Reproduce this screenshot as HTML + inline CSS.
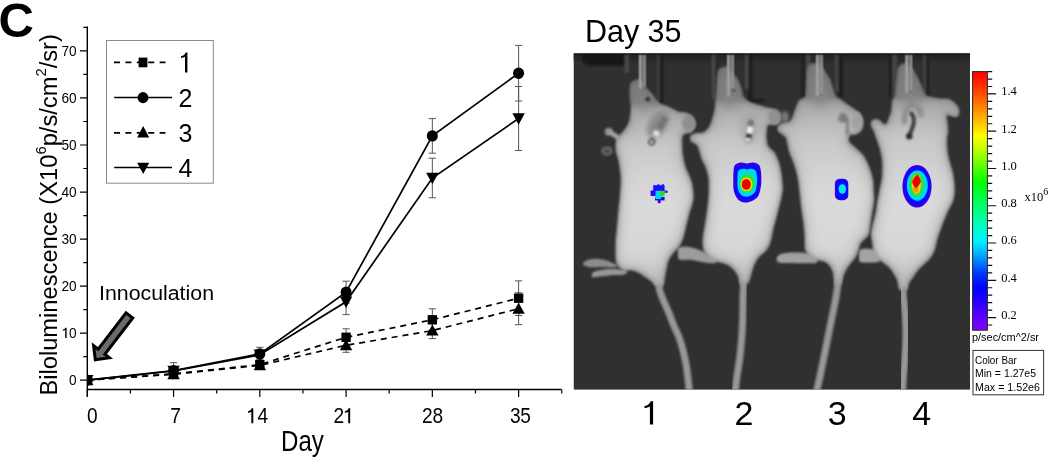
<!DOCTYPE html>
<html><head><meta charset="utf-8"><style>
html,body{margin:0;padding:0;background:#fff;}
body{width:1050px;height:458px;overflow:hidden;position:relative;}
svg{position:absolute;left:0;top:0;will-change:transform;}
text{font-family:"Liberation Sans",sans-serif;fill:#000;}
.serif{font-family:"Liberation Serif",serif;}
</style></head><body>
<svg width="1050" height="458" viewBox="0 0 1050 458">
<path d="M87.3 26.6 V396.8 M87.3 389.5 H561.5" stroke="#000" stroke-width="1.4" fill="none"/>
<path d="M80 380.2 H87.3 M80 333.16 H87.3 M80 286.12 H87.3 M80 239.08 H87.3 M80 192.04 H87.3 M80 145 H87.3 M80 97.96 H87.3 M80 50.92 H87.3 M83.3 356.68 H87.3 M83.3 309.64 H87.3 M83.3 262.6 H87.3 M83.3 215.56 H87.3 M83.3 168.52 H87.3 M83.3 121.48 H87.3 M83.3 74.44 H87.3 M83.3 27.4 H87.3 M87.3 389.5 V397 M173.56 389.5 V397 M259.82 389.5 V397 M346.08 389.5 V397 M432.34 389.5 V397 M518.61 389.5 V397 M130.43 389.5 V393.6 M216.69 389.5 V393.6 M302.95 389.5 V393.6 M389.21 389.5 V393.6 M475.47 389.5 V393.6 M561.74 389.5 V393.6" stroke="#000" stroke-width="1.2" fill="none"/>
<text x="0" y="0" text-anchor="middle" font-size="15.2" transform="translate(72.7 385.1) scale(0.9 1)">0</text>
<path d="M65.18 338.06 H66.63 V327.66 H65.49 Q65.03 329.32 62.71 329.79 V330.78 Q64.45 330.57 65.18 330.05Z" fill="#000"/><text x="0" y="0" text-anchor="middle" font-size="15.2" transform="translate(72.7 338.06) scale(0.9 1)">0</text>
<text x="0" y="0" text-anchor="middle" font-size="15.2" transform="translate(65.3 291.02) scale(0.9 1)">2</text><text x="0" y="0" text-anchor="middle" font-size="15.2" transform="translate(72.7 291.02) scale(0.9 1)">0</text>
<text x="0" y="0" text-anchor="middle" font-size="15.2" transform="translate(65.3 243.98) scale(0.9 1)">3</text><text x="0" y="0" text-anchor="middle" font-size="15.2" transform="translate(72.7 243.98) scale(0.9 1)">0</text>
<text x="0" y="0" text-anchor="middle" font-size="15.2" transform="translate(65.3 196.94) scale(0.9 1)">4</text><text x="0" y="0" text-anchor="middle" font-size="15.2" transform="translate(72.7 196.94) scale(0.9 1)">0</text>
<text x="0" y="0" text-anchor="middle" font-size="15.2" transform="translate(65.3 149.9) scale(0.9 1)">5</text><text x="0" y="0" text-anchor="middle" font-size="15.2" transform="translate(72.7 149.9) scale(0.9 1)">0</text>
<text x="0" y="0" text-anchor="middle" font-size="15.2" transform="translate(65.3 102.86) scale(0.9 1)">6</text><text x="0" y="0" text-anchor="middle" font-size="15.2" transform="translate(72.7 102.86) scale(0.9 1)">0</text>
<text x="0" y="0" text-anchor="middle" font-size="15.2" transform="translate(65.3 55.82) scale(0.9 1)">7</text><text x="0" y="0" text-anchor="middle" font-size="15.2" transform="translate(72.7 55.82) scale(0.9 1)">0</text>
<text x="0" y="0" text-anchor="middle" font-size="22" transform="translate(92.4 423.3) scale(0.87 1)">0</text>
<text x="0" y="0" text-anchor="middle" font-size="22" transform="translate(175.5 423.3) scale(0.87 1)">7</text>
<path d="M251.33 423.3 H253.28 V408.2 H251.75 Q251.13 410.62 248.01 411.3 V412.73 Q250.35 412.43 251.33 411.67Z" fill="#000"/><text x="0" y="0" text-anchor="middle" font-size="22" transform="translate(262.7 423.3) scale(0.87 1)">4</text>
<text x="0" y="0" text-anchor="middle" font-size="22" transform="translate(338.8 423.3) scale(0.87 1)">2</text><path d="M348.22 423.3 H350.17 V408.2 H348.65 Q348.03 410.62 344.91 411.3 V412.73 Q347.25 412.43 348.22 411.67Z" fill="#000"/>
<text x="0" y="0" text-anchor="middle" font-size="22" transform="translate(427.3 423.3) scale(0.87 1)">2</text><text x="0" y="0" text-anchor="middle" font-size="22" transform="translate(437.7 423.3) scale(0.87 1)">8</text>
<text x="0" y="0" text-anchor="middle" font-size="22" transform="translate(515.2 423.3) scale(0.87 1)">3</text><text x="0" y="0" text-anchor="middle" font-size="22" transform="translate(525.6 423.3) scale(0.87 1)">5</text>
<text x="281" y="450.6" font-size="29.2" textLength="42.8" lengthAdjust="spacingAndGlyphs">Day</text>
<path d="M259.82 362.1 V367.1 M256.22 362.1 H263.42 M256.22 367.1 H263.42 M346.08 328.8 V345.8 M342.48 328.8 H349.68 M342.48 345.8 H349.68 M432.34 308.8 V330.8 M428.74 308.8 H435.94 M428.74 330.8 H435.94 M518.61 280.9 V315.5 M515 280.9 H522.21 M515 315.5 H522.21 M173.56 362.7 V378.7 M169.96 362.7 H177.16 M169.96 378.7 H177.16 M259.82 347.3 V360.7 M256.22 347.3 H263.42 M256.22 360.7 H263.42 M346.08 281.2 V303.2 M342.48 281.2 H349.68 M342.48 303.2 H349.68 M432.34 118.6 V153.2 M428.74 118.6 H435.94 M428.74 153.2 H435.94 M518.61 45.4 V101 M515 45.4 H522.21 M515 101 H522.21 M259.82 362.9 V367.9 M256.22 362.9 H263.42 M256.22 367.9 H263.42 M346.08 338.3 V352.3 M342.48 338.3 H349.68 M342.48 352.3 H349.68 M432.34 322.6 V338.6 M428.74 322.6 H435.94 M428.74 338.6 H435.94 M518.61 292.7 V324.7 M515 292.7 H522.21 M515 324.7 H522.21 M173.56 369 V373 M169.96 369 H177.16 M169.96 373 H177.16 M259.82 349.8 V359.8 M256.22 349.8 H263.42 M256.22 359.8 H263.42 M346.08 289 V314.6 M342.48 289 H349.68 M342.48 314.6 H349.68 M432.34 158.2 V197.8 M428.74 158.2 H435.94 M428.74 197.8 H435.94 M518.61 86.5 V150.5 M515 86.5 H522.21 M515 150.5 H522.21" stroke="#555" stroke-width="1" fill="none"/>
<polyline points="87.3,380.2 173.56,373.9 259.82,364.6 346.08,337.3 432.34,319.8 518.61,298.2" stroke="#000" stroke-width="1.7" fill="none" stroke-dasharray="6 5"/>
<polyline points="87.3,380.2 173.56,374.2 259.82,365.4 346.08,345.3 432.34,330.6 518.61,308.7" stroke="#000" stroke-width="1.7" fill="none" stroke-dasharray="6 5"/>
<polyline points="87.3,380.2 173.56,370.7 259.82,354 346.08,292.2 432.34,135.9 518.61,73.2" stroke="#000" stroke-width="1.7" fill="none"/>
<polyline points="87.3,380.2 173.56,371 259.82,354.8 346.08,301.8 432.34,178 518.61,118.5" stroke="#000" stroke-width="1.7" fill="none"/>
<clipPath id="plotclip"><rect x="87.1" y="0" width="500" height="388.8"/></clipPath>
<g clip-path="url(#plotclip)">
<rect x="82.6" y="375.5" width="9.4" height="9.4" fill="#000"/>
<path d="M87.3 374.15 L93.5 385.15 L81.1 385.15Z" fill="#000"/>
<ellipse cx="87.3" cy="380.2" rx="5.5" ry="5.72" fill="#000"/>
<path d="M87.3 386.52 L93.5 375.02 L81.1 375.02Z" fill="#000"/>
<rect x="168.86" y="369.2" width="9.4" height="9.4" fill="#000"/>
<path d="M173.56 368.15 L179.76 379.15 L167.36 379.15Z" fill="#000"/>
<ellipse cx="173.56" cy="370.7" rx="5.5" ry="5.72" fill="#000"/>
<path d="M173.56 377.32 L179.76 365.82 L167.36 365.82Z" fill="#000"/>
<rect x="255.12" y="359.9" width="9.4" height="9.4" fill="#000"/>
<path d="M259.82 359.35 L266.02 370.35 L253.62 370.35Z" fill="#000"/>
<ellipse cx="259.82" cy="354" rx="5.5" ry="5.72" fill="#000"/>
<path d="M259.82 361.12 L266.02 349.62 L253.62 349.62Z" fill="#000"/>
<rect x="341.38" y="332.6" width="9.4" height="9.4" fill="#000"/>
<path d="M346.08 339.25 L352.28 350.25 L339.88 350.25Z" fill="#000"/>
<ellipse cx="346.08" cy="292.2" rx="5.5" ry="5.72" fill="#000"/>
<path d="M346.08 308.12 L352.28 296.62 L339.88 296.62Z" fill="#000"/>
<rect x="427.64" y="315.1" width="9.4" height="9.4" fill="#000"/>
<path d="M432.34 324.55 L438.54 335.55 L426.14 335.55Z" fill="#000"/>
<ellipse cx="432.34" cy="135.9" rx="5.5" ry="5.72" fill="#000"/>
<path d="M432.34 184.32 L438.54 172.82 L426.14 172.82Z" fill="#000"/>
<rect x="513.9" y="293.5" width="9.4" height="9.4" fill="#000"/>
<path d="M518.61 302.65 L524.81 313.65 L512.4 313.65Z" fill="#000"/>
<ellipse cx="518.61" cy="73.2" rx="5.5" ry="5.72" fill="#000"/>
<path d="M518.61 124.83 L524.81 113.33 L512.4 113.33Z" fill="#000"/>
</g>
<rect x="106.5" y="40.5" width="106.8" height="142.7" fill="none" stroke="#8a8a8a" stroke-width="1"/>
<path d="M114 62.4 H165.5" stroke="#000" stroke-width="1.7" stroke-dasharray="6 5.4" fill="none"/>
<path d="M114.2 97.6 H172" stroke="#000" stroke-width="1.5" fill="none"/>
<path d="M114 132.8 H165.5" stroke="#000" stroke-width="1.7" stroke-dasharray="6 5.4" fill="none"/>
<path d="M114.2 167.6 H172" stroke="#000" stroke-width="1.5" fill="none"/>
<rect x="138.6" y="57.6" width="8.8" height="9.7" fill="#000"/>
<ellipse cx="143" cy="97.6" rx="5.4" ry="5.62" fill="#000"/>
<path d="M143.2 125.98 L149.2 137.48 L137.2 137.48Z" fill="#000"/>
<path d="M143.2 174.01 L149.2 162.71 L137.2 162.71Z" fill="#000"/>
<path d="M185 72.4 H187.4 V52.5 H185.6 Q184.8 55.5 181 56.2 V58 Q183.6 57.7 185 56.7 Z" fill="#000"/>
<text x="178.5" y="106.8" font-size="25">2</text>
<text x="178.5" y="142" font-size="25">3</text>
<text x="178.5" y="176.8" font-size="25">4</text>
<text x="99" y="299.9" font-size="20" textLength="115" lengthAdjust="spacingAndGlyphs">Innoculation</text>
<path transform="translate(95.3 359.8) rotate(127.5)" d="M0 0 L-10.2 -10 L-10.2 -4.2 L-56 -4.2 L-56 4.2 L-10.2 4.2 L-10.2 10 Z" fill="#6b6b6b" stroke="#000" stroke-width="3" stroke-linejoin="miter"/>
<text x="-1.5" y="37.3" font-size="49" font-weight="bold">C</text>
<text transform="translate(57.3 395.6) rotate(-90)" font-size="24.8" textLength="361.5" lengthAdjust="spacingAndGlyphs">Biloluminescence (X10<tspan font-size="15.5" dy="-11">6</tspan><tspan dy="11">p/s/cm</tspan><tspan font-size="15.5" dy="-11">2</tspan><tspan dy="11">/sr)</tspan></text>
<defs><clipPath id="pc"><rect x="573.5" y="53.3" width="396.5" height="336.5"/></clipPath><filter id="b1" x="-30%" y="-30%" width="160%" height="160%"><feGaussianBlur stdDeviation="1.2"/></filter><filter id="b2" x="-30%" y="-30%" width="160%" height="160%"><feGaussianBlur stdDeviation="2.5"/></filter><filter id="b05" x="-30%" y="-30%" width="160%" height="160%"><feGaussianBlur stdDeviation="0.6"/></filter><filter id="b08" x="-30%" y="-30%" width="160%" height="160%"><feGaussianBlur stdDeviation="0.8"/></filter><filter id="b15" x="-30%" y="-30%" width="160%" height="160%"><feGaussianBlur stdDeviation="1.5"/></filter><filter id="b3" x="-30%" y="-30%" width="160%" height="160%"><feGaussianBlur stdDeviation="3.5"/></filter><filter id="er1" x="-20%" y="-20%" width="140%" height="140%"><feMorphology operator="erode" radius="2.2"/><feGaussianBlur stdDeviation="2"/></filter><filter id="er2" x="-20%" y="-20%" width="140%" height="140%"><feMorphology operator="erode" radius="7"/><feGaussianBlur stdDeviation="5"/></filter><filter id="noise" x="0" y="0" width="100%" height="100%"><feTurbulence type="fractalNoise" baseFrequency="0.9" numOctaves="1" seed="3"/><feColorMatrix type="matrix" values="0 0 0 0 0.5  0 0 0 0 0.5  0 0 0 0 0.5  0 0 0 0.05 0"/></filter><linearGradient id="ge0" gradientUnits="userSpaceOnUse" x1="0" y1="50" x2="0" y2="292"><stop offset="0.0000" stop-color="#6c6c6c"/><stop offset="0.2149" stop-color="#747474"/><stop offset="0.2397" stop-color="#8e8e8e"/><stop offset="0.6198" stop-color="#9e9e9e"/><stop offset="1.0000" stop-color="#969696"/></linearGradient><linearGradient id="gm0" gradientUnits="userSpaceOnUse" x1="0" y1="50" x2="0" y2="292"><stop offset="0.0000" stop-color="#787878"/><stop offset="0.2149" stop-color="#7e7e7e"/><stop offset="0.2355" stop-color="#a2a2a2"/><stop offset="0.3636" stop-color="#bcbcbc"/><stop offset="0.5785" stop-color="#cbcbcb"/><stop offset="0.8760" stop-color="#c6c6c6"/><stop offset="1.0000" stop-color="#b4b4b4"/></linearGradient><linearGradient id="gc0" gradientUnits="userSpaceOnUse" x1="0" y1="50" x2="0" y2="292"><stop offset="0.0000" stop-color="#7e7e7e"/><stop offset="0.2149" stop-color="#858585"/><stop offset="0.2355" stop-color="#aeaeae"/><stop offset="0.3636" stop-color="#c8c8c8"/><stop offset="0.5165" stop-color="#d6d6d6"/><stop offset="0.6198" stop-color="#dbdbdb"/><stop offset="0.8471" stop-color="#d8d8d8"/><stop offset="1.0000" stop-color="#c4c4c4"/></linearGradient><linearGradient id="ge1" gradientUnits="userSpaceOnUse" x1="0" y1="50" x2="0" y2="292"><stop offset="0.0000" stop-color="#6c6c6c"/><stop offset="0.2004" stop-color="#747474"/><stop offset="0.2252" stop-color="#8e8e8e"/><stop offset="0.6198" stop-color="#9e9e9e"/><stop offset="1.0000" stop-color="#969696"/></linearGradient><linearGradient id="gm1" gradientUnits="userSpaceOnUse" x1="0" y1="50" x2="0" y2="292"><stop offset="0.0000" stop-color="#787878"/><stop offset="0.2004" stop-color="#7e7e7e"/><stop offset="0.2211" stop-color="#a2a2a2"/><stop offset="0.3492" stop-color="#bcbcbc"/><stop offset="0.5785" stop-color="#cbcbcb"/><stop offset="0.8760" stop-color="#c6c6c6"/><stop offset="1.0000" stop-color="#b4b4b4"/></linearGradient><linearGradient id="gc1" gradientUnits="userSpaceOnUse" x1="0" y1="50" x2="0" y2="292"><stop offset="0.0000" stop-color="#7e7e7e"/><stop offset="0.2004" stop-color="#858585"/><stop offset="0.2211" stop-color="#aeaeae"/><stop offset="0.3492" stop-color="#c8c8c8"/><stop offset="0.5165" stop-color="#d6d6d6"/><stop offset="0.6198" stop-color="#dbdbdb"/><stop offset="0.8471" stop-color="#d8d8d8"/><stop offset="1.0000" stop-color="#c4c4c4"/></linearGradient><linearGradient id="ge2" gradientUnits="userSpaceOnUse" x1="0" y1="50" x2="0" y2="292"><stop offset="0.0000" stop-color="#6c6c6c"/><stop offset="0.1921" stop-color="#747474"/><stop offset="0.2169" stop-color="#8e8e8e"/><stop offset="0.6198" stop-color="#9e9e9e"/><stop offset="1.0000" stop-color="#969696"/></linearGradient><linearGradient id="gm2" gradientUnits="userSpaceOnUse" x1="0" y1="50" x2="0" y2="292"><stop offset="0.0000" stop-color="#787878"/><stop offset="0.1921" stop-color="#7e7e7e"/><stop offset="0.2128" stop-color="#a2a2a2"/><stop offset="0.3409" stop-color="#bcbcbc"/><stop offset="0.5785" stop-color="#cbcbcb"/><stop offset="0.8760" stop-color="#c6c6c6"/><stop offset="1.0000" stop-color="#b4b4b4"/></linearGradient><linearGradient id="gc2" gradientUnits="userSpaceOnUse" x1="0" y1="50" x2="0" y2="292"><stop offset="0.0000" stop-color="#7e7e7e"/><stop offset="0.1921" stop-color="#858585"/><stop offset="0.2128" stop-color="#aeaeae"/><stop offset="0.3409" stop-color="#c8c8c8"/><stop offset="0.5165" stop-color="#d6d6d6"/><stop offset="0.6198" stop-color="#dbdbdb"/><stop offset="0.8471" stop-color="#d8d8d8"/><stop offset="1.0000" stop-color="#c4c4c4"/></linearGradient><linearGradient id="ge3" gradientUnits="userSpaceOnUse" x1="0" y1="50" x2="0" y2="292"><stop offset="0.0000" stop-color="#6c6c6c"/><stop offset="0.1901" stop-color="#747474"/><stop offset="0.2149" stop-color="#8e8e8e"/><stop offset="0.6198" stop-color="#9e9e9e"/><stop offset="1.0000" stop-color="#969696"/></linearGradient><linearGradient id="gm3" gradientUnits="userSpaceOnUse" x1="0" y1="50" x2="0" y2="292"><stop offset="0.0000" stop-color="#787878"/><stop offset="0.1901" stop-color="#7e7e7e"/><stop offset="0.2107" stop-color="#a2a2a2"/><stop offset="0.3388" stop-color="#bcbcbc"/><stop offset="0.5785" stop-color="#cbcbcb"/><stop offset="0.8760" stop-color="#c6c6c6"/><stop offset="1.0000" stop-color="#b4b4b4"/></linearGradient><linearGradient id="gc3" gradientUnits="userSpaceOnUse" x1="0" y1="50" x2="0" y2="292"><stop offset="0.0000" stop-color="#7e7e7e"/><stop offset="0.1901" stop-color="#858585"/><stop offset="0.2107" stop-color="#aeaeae"/><stop offset="0.3388" stop-color="#c8c8c8"/><stop offset="0.5165" stop-color="#d6d6d6"/><stop offset="0.6198" stop-color="#dbdbdb"/><stop offset="0.8471" stop-color="#d8d8d8"/><stop offset="1.0000" stop-color="#c4c4c4"/></linearGradient><linearGradient id="gcb" x1="0" y1="0" x2="0" y2="1"><stop offset="0" stop-color="#ff0000"/><stop offset="0.03" stop-color="#ff1800"/><stop offset="0.09" stop-color="#ff5000"/><stop offset="0.15" stop-color="#ff9000"/><stop offset="0.195" stop-color="#ffc000"/><stop offset="0.25" stop-color="#ffff00"/><stop offset="0.31" stop-color="#b0ff00"/><stop offset="0.43" stop-color="#00ff00"/><stop offset="0.48" stop-color="#00ff40"/><stop offset="0.537" stop-color="#00ff80"/><stop offset="0.597" stop-color="#00ffc0"/><stop offset="0.656" stop-color="#00f0ff"/><stop offset="0.714" stop-color="#00a0ff"/><stop offset="0.774" stop-color="#0040ff"/><stop offset="0.834" stop-color="#0000ff"/><stop offset="0.88" stop-color="#2000ff"/><stop offset="0.95" stop-color="#6000ff"/><stop offset="1" stop-color="#8000ff"/></linearGradient></defs>
<g clip-path="url(#pc)">
<rect x="573.5" y="53.3" width="396.5" height="336.5" fill="#303030"/>
<g filter="url(#b08)">
<rect x="573" y="54.5" width="400" height="6.5" fill="#252525"/>
<path d="M581.8 53 H624.6 V65.5 H586.7 L581.8 60Z" fill="#141414"/>
<rect x="573" y="52" width="400" height="3" fill="#121212"/>
<rect x="624.6" y="55" width="4.2" height="18" fill="#4a4a4a"/>
<rect x="660" y="55" width="3.6" height="48.4" fill="#1c1c1c"/>
<rect x="656.5" y="55" width="3.5" height="45" fill="#3a3a3a"/>
<rect x="712" y="55" width="3" height="44.7" fill="#4a4a4a"/>
<rect x="715" y="55" width="3.6" height="44" fill="#252525"/>
<rect x="745" y="55" width="3.6" height="33.7" fill="#4a4a4a"/>
<rect x="748.6" y="55" width="3.6" height="46" fill="#1a1a1a"/>
<rect x="801" y="55" width="5" height="42" fill="#222222"/>
<rect x="806" y="55" width="4" height="42" fill="#4a4a4a"/>
<rect x="835" y="55" width="3.6" height="37" fill="#454545"/>
<rect x="838.6" y="55" width="4.4" height="42" fill="#1e1e1e"/>
<rect x="889" y="55" width="3.4" height="42" fill="#1e1e1e"/>
<rect x="892.4" y="55" width="4.3" height="42" fill="#464646"/>
<rect x="923.5" y="55" width="2.5" height="37" fill="#454545"/>
<rect x="926" y="55" width="2.4" height="42" fill="#1e1e1e"/>
<rect x="748.6" y="99" width="16" height="3" fill="#1e1e1e"/>
</g>
<g filter="url(#b08)">
<path d="M582.9 264.5 C582.3 263.38 584.3 261.47 586.4 260.5 C588.5 259.53 592.23 258.73 595.5 258.7 C598.77 258.67 603.08 259.53 606 260.3 C608.92 261.07 611 262.43 613 263.3 C615 264.17 618 264.8 618 265.5 C618 266.2 615.6 267.27 613 267.5 C610.4 267.73 606.23 266.95 602.4 266.9 C598.57 266.85 593.25 267.6 590 267.2 C586.75 266.8 583.5 265.62 582.9 264.5Z" fill="#8c8c8c"/>
<path d="M592 277 C591.5 276.22 591.67 273.47 593 272.3 C594.33 271.13 597.17 270.55 600 270 C602.83 269.45 606.67 269.1 610 269 C613.33 268.9 617.17 269.07 620 269.4 C622.83 269.73 626.33 270.13 627 271 C627.67 271.87 626.93 273.87 624 274.6 C621.07 275.33 614.07 275 609.4 275.4 C604.73 275.8 598.9 276.73 596 277 C593.1 277.27 592.5 277.78 592 277Z" fill="#979797"/>
<path d="M678 253.5 C677.85 251.55 676.87 248.88 678.6 247.8 C680.33 246.72 685.13 246.72 688.4 247 C691.67 247.28 695.47 248.58 698.2 249.5 C700.93 250.42 702.62 251.45 704.8 252.5 C706.98 253.55 709.27 254.72 711.3 255.8 C713.33 256.88 716.45 257.8 717 259 C717.55 260.2 716.63 262.43 714.6 263 C712.57 263.57 708.62 262.9 704.8 262.4 C700.98 261.9 695.92 260.48 691.7 260 C687.48 259.52 681.78 260.58 679.5 259.5 C677.22 258.42 678.15 255.45 678 253.5Z" fill="#9c9c9c"/>
<path d="M776.5 259 C776.5 257.75 777.42 256 779 255 C780.58 254 783.33 253.42 786 253 C788.67 252.58 791.83 252.5 795 252.5 C798.17 252.5 802.17 252.58 805 253 C807.83 253.42 810 254 812 255 C814 256 816.33 257.67 817 259 C817.67 260.33 818 262.3 816 263 C814 263.7 809.33 263.2 805 263.2 C800.67 263.2 794.33 263.12 790 263 C785.67 262.88 781.25 263.17 779 262.5 C776.75 261.83 776.5 260.25 776.5 259Z" fill="#a0a0a0"/>
<path d="M859 256 C859 254.03 858.83 251.2 860 250 C861.17 248.8 863.83 248.88 866 248.8 C868.17 248.72 870.83 248.8 873 249.5 C875.17 250.2 877.67 251.58 879 253 C880.33 254.42 881.17 256.5 881 258 C880.83 259.5 880.17 261.23 878 262 C875.83 262.77 871 262.63 868 262.6 C865 262.57 861.5 262.9 860 261.8 C858.5 260.7 859 257.97 859 256Z" fill="#a4a4a4"/>
<ellipse cx="608.8" cy="131.8" rx="4.2" ry="4" fill="#909090"/>
<path d="M618 137.5 L611 133" stroke="#a0a0a0" stroke-width="5" stroke-linecap="round"/>
<ellipse cx="607" cy="151" rx="4.6" ry="3.6" fill="#484848" stroke="#6e6e6e" stroke-width="2"/>
</g>
<path d="M659.5 283 C659.52 284.17 658.98 287.17 659.6 290 C660.22 292.83 661.72 296.33 663.2 300 C664.68 303.67 666.7 307.67 668.5 312 C670.3 316.33 672.08 321.33 674 326 C675.92 330.67 678.05 334 680 340 C681.95 346 684.25 354.5 685.7 362 C687.15 369.5 688.1 379.67 688.7 385 C689.3 390.33 689.2 392.5 689.3 394" stroke="#8c8c8c" stroke-width="7.2" fill="none" stroke-linecap="round" filter="url(#b08)"/>
<path d="M659.5 283 C659.52 284.17 658.98 287.17 659.6 290 C660.22 292.83 661.72 296.33 663.2 300 C664.68 303.67 666.7 307.67 668.5 312 C670.3 316.33 672.08 321.33 674 326 C675.92 330.67 678.05 334 680 340 C681.95 346 684.25 354.5 685.7 362 C687.15 369.5 688.1 379.67 688.7 385 C689.3 390.33 689.2 392.5 689.3 394" stroke="#9c9c9c" stroke-width="3" fill="none" stroke-linecap="round" filter="url(#b08)"/>
<path d="M743.5 281 C743.47 282.5 743.38 286.83 743.3 290 C743.22 293.17 743.1 295 743 300 C742.9 305 742.93 313.5 742.7 320 C742.47 326.5 742.12 332.5 741.6 339 C741.08 345.5 740.43 352.33 739.6 359 C738.77 365.67 737.37 373.17 736.6 379 C735.83 384.83 735.27 391.5 735 394" stroke="#8c8c8c" stroke-width="7.2" fill="none" stroke-linecap="round" filter="url(#b08)"/>
<path d="M743.5 281 C743.47 282.5 743.38 286.83 743.3 290 C743.22 293.17 743.1 295 743 300 C742.9 305 742.93 313.5 742.7 320 C742.47 326.5 742.12 332.5 741.6 339 C741.08 345.5 740.43 352.33 739.6 359 C738.77 365.67 737.37 373.17 736.6 379 C735.83 384.83 735.27 391.5 735 394" stroke="#9c9c9c" stroke-width="3" fill="none" stroke-linecap="round" filter="url(#b08)"/>
<path d="M838 277 C838 278 838.42 279.17 838 283 C837.58 286.83 836.6 293.83 835.5 300 C834.4 306.17 832.98 312.17 831.4 320 C829.82 327.83 827.82 338 826 347 C824.18 356 821.97 367 820.5 374 C819.03 381 817.83 385.67 817.2 389 C816.57 392.33 816.78 393.17 816.7 394" stroke="#8c8c8c" stroke-width="7.2" fill="none" stroke-linecap="round" filter="url(#b08)"/>
<path d="M838 277 C838 278 838.42 279.17 838 283 C837.58 286.83 836.6 293.83 835.5 300 C834.4 306.17 832.98 312.17 831.4 320 C829.82 327.83 827.82 338 826 347 C824.18 356 821.97 367 820.5 374 C819.03 381 817.83 385.67 817.2 389 C816.57 392.33 816.78 393.17 816.7 394" stroke="#9c9c9c" stroke-width="3" fill="none" stroke-linecap="round" filter="url(#b08)"/>
<path d="M903.5 286 C903.47 287.5 902.98 290 903.3 295 C903.62 300 904.95 309 905.4 316 C905.85 323 906.08 330 906 337 C905.92 344 905.35 351.17 904.9 358 C904.45 364.83 903.73 372 903.3 378 C902.87 384 902.47 391.33 902.3 394" stroke="#8c8c8c" stroke-width="7.2" fill="none" stroke-linecap="round" filter="url(#b08)"/>
<path d="M903.5 286 C903.47 287.5 902.98 290 903.3 295 C903.62 300 904.95 309 905.4 316 C905.85 323 906.08 330 906 337 C905.92 344 905.35 351.17 904.9 358 C904.45 364.83 903.73 372 903.3 378 C902.87 384 902.47 391.33 902.3 394" stroke="#9c9c9c" stroke-width="3" fill="none" stroke-linecap="round" filter="url(#b08)"/>
<path d="M630.4 84 C631.13 81.82 632.85 81.48 634.2 80.7 C635.55 79.92 637.12 79.17 638.5 79.3 C639.88 79.43 641.3 80.17 642.5 81.5 C643.7 82.83 644.28 85.43 645.7 87.3 C647.12 89.17 649.28 90.7 651 92.7 C652.72 94.7 654.43 97.47 656 99.3 C657.57 101.13 658.65 102.6 660.4 103.7 C662.15 104.8 664.38 104.98 666.5 105.9 C668.62 106.82 670.9 108.13 673.1 109.2 C675.3 110.27 677.7 111.75 679.7 112.3 C681.7 112.85 683.3 111.97 685.1 112.5 C686.9 113.03 688.95 114.23 690.5 115.5 C692.05 116.77 693.57 118.42 694.4 120.1 C695.23 121.78 695.95 123.6 695.5 125.6 C695.05 127.6 693.43 130.8 691.7 132.1 C689.97 133.4 686.67 132.67 685.1 133.4 C683.53 134.13 682.85 135.23 682.3 136.5 C681.75 137.77 681.78 138.25 681.8 141 C681.82 143.75 681.87 148.83 682.4 153 C682.93 157.17 683.78 162 685 166 C686.22 170 688.48 173.67 689.7 177 C690.92 180.33 691.75 182.17 692.3 186 C692.85 189.83 693.52 195.5 693 200 C692.48 204.5 690.37 208.67 689.2 213 C688.03 217.33 687.08 221.67 686 226 C684.92 230.33 683.87 235.58 682.7 239 C681.53 242.42 680.37 244.42 679 246.5 C677.63 248.58 675.92 249.83 674.5 251.5 C673.08 253.17 671.62 254.75 670.5 256.5 C669.38 258.25 668.5 259.92 667.8 262 C667.1 264.08 666.83 266.5 666.3 269 C665.77 271.5 665.03 274.5 664.6 277 C664.17 279.5 664.47 282.25 663.7 284 C662.93 285.75 661.42 287.17 660 287.5 C658.58 287.83 656.53 286.92 655.2 286 C653.87 285.08 653.43 283.33 652 282 C650.57 280.67 648.8 279.55 646.6 278 C644.4 276.45 641.4 274.03 638.8 272.7 C636.2 271.37 633.4 270.37 631 270 C628.6 269.63 626.48 271.08 624.4 270.5 C622.32 269.92 619.9 268.32 618.5 266.5 C617.1 264.68 616.42 264.02 616 259.6 C615.58 255.18 615.83 244.93 616 240 C616.17 235.07 616.57 234.67 617 230 C617.43 225.33 618.05 217.83 618.6 212 C619.15 206.17 619.87 200.17 620.3 195 C620.73 189.83 621.2 185.08 621.2 181 C621.2 176.92 620.73 174 620.3 170.5 C619.87 167 619.25 162.97 618.6 160 C617.95 157.03 616.87 155.45 616.4 152.7 C615.93 149.95 615.62 146.07 615.8 143.5 C615.98 140.93 616.42 139.13 617.5 137.3 C618.58 135.47 620.8 134.22 622.3 132.5 C623.8 130.78 625.3 129 626.5 127 C627.7 125 628.75 123.3 629.5 120.5 C630.25 117.7 630.75 112.82 631 110.2 C631.25 107.58 631.1 106.25 631 104.8 C630.9 103.35 630.6 103.33 630.4 101.5 C630.2 99.67 629.8 96.72 629.8 93.8 C629.8 90.88 629.67 86.18 630.4 84Z" fill="url(#ge0)" filter="url(#b1)"/>
<path d="M630.4 84 C631.13 81.82 632.85 81.48 634.2 80.7 C635.55 79.92 637.12 79.17 638.5 79.3 C639.88 79.43 641.3 80.17 642.5 81.5 C643.7 82.83 644.28 85.43 645.7 87.3 C647.12 89.17 649.28 90.7 651 92.7 C652.72 94.7 654.43 97.47 656 99.3 C657.57 101.13 658.65 102.6 660.4 103.7 C662.15 104.8 664.38 104.98 666.5 105.9 C668.62 106.82 670.9 108.13 673.1 109.2 C675.3 110.27 677.7 111.75 679.7 112.3 C681.7 112.85 683.3 111.97 685.1 112.5 C686.9 113.03 688.95 114.23 690.5 115.5 C692.05 116.77 693.57 118.42 694.4 120.1 C695.23 121.78 695.95 123.6 695.5 125.6 C695.05 127.6 693.43 130.8 691.7 132.1 C689.97 133.4 686.67 132.67 685.1 133.4 C683.53 134.13 682.85 135.23 682.3 136.5 C681.75 137.77 681.78 138.25 681.8 141 C681.82 143.75 681.87 148.83 682.4 153 C682.93 157.17 683.78 162 685 166 C686.22 170 688.48 173.67 689.7 177 C690.92 180.33 691.75 182.17 692.3 186 C692.85 189.83 693.52 195.5 693 200 C692.48 204.5 690.37 208.67 689.2 213 C688.03 217.33 687.08 221.67 686 226 C684.92 230.33 683.87 235.58 682.7 239 C681.53 242.42 680.37 244.42 679 246.5 C677.63 248.58 675.92 249.83 674.5 251.5 C673.08 253.17 671.62 254.75 670.5 256.5 C669.38 258.25 668.5 259.92 667.8 262 C667.1 264.08 666.83 266.5 666.3 269 C665.77 271.5 665.03 274.5 664.6 277 C664.17 279.5 664.47 282.25 663.7 284 C662.93 285.75 661.42 287.17 660 287.5 C658.58 287.83 656.53 286.92 655.2 286 C653.87 285.08 653.43 283.33 652 282 C650.57 280.67 648.8 279.55 646.6 278 C644.4 276.45 641.4 274.03 638.8 272.7 C636.2 271.37 633.4 270.37 631 270 C628.6 269.63 626.48 271.08 624.4 270.5 C622.32 269.92 619.9 268.32 618.5 266.5 C617.1 264.68 616.42 264.02 616 259.6 C615.58 255.18 615.83 244.93 616 240 C616.17 235.07 616.57 234.67 617 230 C617.43 225.33 618.05 217.83 618.6 212 C619.15 206.17 619.87 200.17 620.3 195 C620.73 189.83 621.2 185.08 621.2 181 C621.2 176.92 620.73 174 620.3 170.5 C619.87 167 619.25 162.97 618.6 160 C617.95 157.03 616.87 155.45 616.4 152.7 C615.93 149.95 615.62 146.07 615.8 143.5 C615.98 140.93 616.42 139.13 617.5 137.3 C618.58 135.47 620.8 134.22 622.3 132.5 C623.8 130.78 625.3 129 626.5 127 C627.7 125 628.75 123.3 629.5 120.5 C630.25 117.7 630.75 112.82 631 110.2 C631.25 107.58 631.1 106.25 631 104.8 C630.9 103.35 630.6 103.33 630.4 101.5 C630.2 99.67 629.8 96.72 629.8 93.8 C629.8 90.88 629.67 86.18 630.4 84Z" fill="url(#gm0)" filter="url(#er1)"/>
<path d="M630.4 84 C631.13 81.82 632.85 81.48 634.2 80.7 C635.55 79.92 637.12 79.17 638.5 79.3 C639.88 79.43 641.3 80.17 642.5 81.5 C643.7 82.83 644.28 85.43 645.7 87.3 C647.12 89.17 649.28 90.7 651 92.7 C652.72 94.7 654.43 97.47 656 99.3 C657.57 101.13 658.65 102.6 660.4 103.7 C662.15 104.8 664.38 104.98 666.5 105.9 C668.62 106.82 670.9 108.13 673.1 109.2 C675.3 110.27 677.7 111.75 679.7 112.3 C681.7 112.85 683.3 111.97 685.1 112.5 C686.9 113.03 688.95 114.23 690.5 115.5 C692.05 116.77 693.57 118.42 694.4 120.1 C695.23 121.78 695.95 123.6 695.5 125.6 C695.05 127.6 693.43 130.8 691.7 132.1 C689.97 133.4 686.67 132.67 685.1 133.4 C683.53 134.13 682.85 135.23 682.3 136.5 C681.75 137.77 681.78 138.25 681.8 141 C681.82 143.75 681.87 148.83 682.4 153 C682.93 157.17 683.78 162 685 166 C686.22 170 688.48 173.67 689.7 177 C690.92 180.33 691.75 182.17 692.3 186 C692.85 189.83 693.52 195.5 693 200 C692.48 204.5 690.37 208.67 689.2 213 C688.03 217.33 687.08 221.67 686 226 C684.92 230.33 683.87 235.58 682.7 239 C681.53 242.42 680.37 244.42 679 246.5 C677.63 248.58 675.92 249.83 674.5 251.5 C673.08 253.17 671.62 254.75 670.5 256.5 C669.38 258.25 668.5 259.92 667.8 262 C667.1 264.08 666.83 266.5 666.3 269 C665.77 271.5 665.03 274.5 664.6 277 C664.17 279.5 664.47 282.25 663.7 284 C662.93 285.75 661.42 287.17 660 287.5 C658.58 287.83 656.53 286.92 655.2 286 C653.87 285.08 653.43 283.33 652 282 C650.57 280.67 648.8 279.55 646.6 278 C644.4 276.45 641.4 274.03 638.8 272.7 C636.2 271.37 633.4 270.37 631 270 C628.6 269.63 626.48 271.08 624.4 270.5 C622.32 269.92 619.9 268.32 618.5 266.5 C617.1 264.68 616.42 264.02 616 259.6 C615.58 255.18 615.83 244.93 616 240 C616.17 235.07 616.57 234.67 617 230 C617.43 225.33 618.05 217.83 618.6 212 C619.15 206.17 619.87 200.17 620.3 195 C620.73 189.83 621.2 185.08 621.2 181 C621.2 176.92 620.73 174 620.3 170.5 C619.87 167 619.25 162.97 618.6 160 C617.95 157.03 616.87 155.45 616.4 152.7 C615.93 149.95 615.62 146.07 615.8 143.5 C615.98 140.93 616.42 139.13 617.5 137.3 C618.58 135.47 620.8 134.22 622.3 132.5 C623.8 130.78 625.3 129 626.5 127 C627.7 125 628.75 123.3 629.5 120.5 C630.25 117.7 630.75 112.82 631 110.2 C631.25 107.58 631.1 106.25 631 104.8 C630.9 103.35 630.6 103.33 630.4 101.5 C630.2 99.67 629.8 96.72 629.8 93.8 C629.8 90.88 629.67 86.18 630.4 84Z" fill="url(#gc0)" filter="url(#er2)"/>
<path d="M718.1 70.9 C719.02 68.53 720.93 68.25 722.5 67.6 C724.07 66.95 725.87 66.08 727.5 67 C729.13 67.92 730.58 70.98 732.3 73.1 C734.02 75.22 736.35 77.33 737.8 79.7 C739.25 82.07 740.1 84.58 741 87.3 C741.9 90.02 741.92 93.63 743.2 96 C744.48 98.37 746.95 100.22 748.7 101.5 C750.45 102.78 751.58 102.97 753.7 103.7 C755.82 104.43 759.22 105.25 761.4 105.9 C763.58 106.55 764.8 107.05 766.8 107.6 C768.8 108.15 771.4 108.2 773.4 109.2 C775.4 110.2 777.53 111.97 778.8 113.6 C780.07 115.23 781 117.37 781 119 C781 120.63 779.88 122.45 778.8 123.4 C777.72 124.35 776.22 124.52 774.5 124.7 C772.78 124.88 769.83 123.62 768.5 124.5 C767.17 125.38 766.87 127.58 766.5 130 C766.13 132.42 766.05 136.33 766.3 139 C766.55 141.67 767.05 144.17 768 146 C768.95 147.83 770.73 148.58 772 150 C773.27 151.42 774.3 151.83 775.6 154.5 C776.9 157.17 778.77 161.92 779.8 166 C780.83 170.08 781.4 174.67 781.8 179 C782.2 183.33 782.73 187.17 782.2 192 C781.67 196.83 779.75 203.17 778.6 208 C777.45 212.83 776.27 217.33 775.3 221 C774.33 224.67 773.58 226.67 772.8 230 C772.02 233.33 771.62 237.72 770.6 241 C769.58 244.28 768.35 247.32 766.7 249.7 C765.05 252.08 762.42 253.48 760.7 255.3 C758.98 257.12 757.68 258.48 756.4 260.6 C755.12 262.72 754 265.27 753 268 C752 270.73 751.32 274.42 750.4 277 C749.48 279.58 749.2 282.42 747.5 283.5 C745.8 284.58 741.72 284.58 740.2 283.5 C738.68 282.42 739.3 279.08 738.4 277 C737.5 274.92 736.2 272.8 734.8 271 C733.4 269.2 731.8 267.5 730 266.2 C728.2 264.9 726.2 264 724 263.2 C721.8 262.4 719.22 262.35 716.8 261.4 C714.38 260.45 711.63 259.23 709.5 257.5 C707.37 255.77 705.08 254.08 704 251 C702.92 247.92 702.83 243.17 703 239 C703.17 234.83 704.33 230.33 705 226 C705.67 221.67 706.4 217.33 707 213 C707.6 208.67 708.22 204.5 708.6 200 C708.98 195.5 709.3 189.83 709.3 186 C709.3 182.17 709.25 180.33 708.6 177 C707.95 173.67 706.5 168.88 705.4 166 C704.3 163.12 703.03 162.37 702 159.7 C700.97 157.03 700.12 152.53 699.2 150 C698.28 147.47 697.87 145.92 696.5 144.5 C695.13 143.08 692 142.92 691 141.5 C690 140.08 689.67 137.37 690.5 136 C691.33 134.63 693.83 133.88 696 133.3 C698.17 132.72 701.17 133.83 703.5 132.5 C705.83 131.17 708.2 128.72 710 125.3 C711.8 121.88 713.38 115.55 714.3 112 C715.22 108.45 715.17 107.2 715.5 104 C715.83 100.8 716.05 96.5 716.3 92.8 C716.55 89.1 716.7 85.45 717 81.8 C717.3 78.15 717.18 73.27 718.1 70.9Z" fill="url(#ge1)" filter="url(#b1)"/>
<path d="M718.1 70.9 C719.02 68.53 720.93 68.25 722.5 67.6 C724.07 66.95 725.87 66.08 727.5 67 C729.13 67.92 730.58 70.98 732.3 73.1 C734.02 75.22 736.35 77.33 737.8 79.7 C739.25 82.07 740.1 84.58 741 87.3 C741.9 90.02 741.92 93.63 743.2 96 C744.48 98.37 746.95 100.22 748.7 101.5 C750.45 102.78 751.58 102.97 753.7 103.7 C755.82 104.43 759.22 105.25 761.4 105.9 C763.58 106.55 764.8 107.05 766.8 107.6 C768.8 108.15 771.4 108.2 773.4 109.2 C775.4 110.2 777.53 111.97 778.8 113.6 C780.07 115.23 781 117.37 781 119 C781 120.63 779.88 122.45 778.8 123.4 C777.72 124.35 776.22 124.52 774.5 124.7 C772.78 124.88 769.83 123.62 768.5 124.5 C767.17 125.38 766.87 127.58 766.5 130 C766.13 132.42 766.05 136.33 766.3 139 C766.55 141.67 767.05 144.17 768 146 C768.95 147.83 770.73 148.58 772 150 C773.27 151.42 774.3 151.83 775.6 154.5 C776.9 157.17 778.77 161.92 779.8 166 C780.83 170.08 781.4 174.67 781.8 179 C782.2 183.33 782.73 187.17 782.2 192 C781.67 196.83 779.75 203.17 778.6 208 C777.45 212.83 776.27 217.33 775.3 221 C774.33 224.67 773.58 226.67 772.8 230 C772.02 233.33 771.62 237.72 770.6 241 C769.58 244.28 768.35 247.32 766.7 249.7 C765.05 252.08 762.42 253.48 760.7 255.3 C758.98 257.12 757.68 258.48 756.4 260.6 C755.12 262.72 754 265.27 753 268 C752 270.73 751.32 274.42 750.4 277 C749.48 279.58 749.2 282.42 747.5 283.5 C745.8 284.58 741.72 284.58 740.2 283.5 C738.68 282.42 739.3 279.08 738.4 277 C737.5 274.92 736.2 272.8 734.8 271 C733.4 269.2 731.8 267.5 730 266.2 C728.2 264.9 726.2 264 724 263.2 C721.8 262.4 719.22 262.35 716.8 261.4 C714.38 260.45 711.63 259.23 709.5 257.5 C707.37 255.77 705.08 254.08 704 251 C702.92 247.92 702.83 243.17 703 239 C703.17 234.83 704.33 230.33 705 226 C705.67 221.67 706.4 217.33 707 213 C707.6 208.67 708.22 204.5 708.6 200 C708.98 195.5 709.3 189.83 709.3 186 C709.3 182.17 709.25 180.33 708.6 177 C707.95 173.67 706.5 168.88 705.4 166 C704.3 163.12 703.03 162.37 702 159.7 C700.97 157.03 700.12 152.53 699.2 150 C698.28 147.47 697.87 145.92 696.5 144.5 C695.13 143.08 692 142.92 691 141.5 C690 140.08 689.67 137.37 690.5 136 C691.33 134.63 693.83 133.88 696 133.3 C698.17 132.72 701.17 133.83 703.5 132.5 C705.83 131.17 708.2 128.72 710 125.3 C711.8 121.88 713.38 115.55 714.3 112 C715.22 108.45 715.17 107.2 715.5 104 C715.83 100.8 716.05 96.5 716.3 92.8 C716.55 89.1 716.7 85.45 717 81.8 C717.3 78.15 717.18 73.27 718.1 70.9Z" fill="url(#gm1)" filter="url(#er1)"/>
<path d="M718.1 70.9 C719.02 68.53 720.93 68.25 722.5 67.6 C724.07 66.95 725.87 66.08 727.5 67 C729.13 67.92 730.58 70.98 732.3 73.1 C734.02 75.22 736.35 77.33 737.8 79.7 C739.25 82.07 740.1 84.58 741 87.3 C741.9 90.02 741.92 93.63 743.2 96 C744.48 98.37 746.95 100.22 748.7 101.5 C750.45 102.78 751.58 102.97 753.7 103.7 C755.82 104.43 759.22 105.25 761.4 105.9 C763.58 106.55 764.8 107.05 766.8 107.6 C768.8 108.15 771.4 108.2 773.4 109.2 C775.4 110.2 777.53 111.97 778.8 113.6 C780.07 115.23 781 117.37 781 119 C781 120.63 779.88 122.45 778.8 123.4 C777.72 124.35 776.22 124.52 774.5 124.7 C772.78 124.88 769.83 123.62 768.5 124.5 C767.17 125.38 766.87 127.58 766.5 130 C766.13 132.42 766.05 136.33 766.3 139 C766.55 141.67 767.05 144.17 768 146 C768.95 147.83 770.73 148.58 772 150 C773.27 151.42 774.3 151.83 775.6 154.5 C776.9 157.17 778.77 161.92 779.8 166 C780.83 170.08 781.4 174.67 781.8 179 C782.2 183.33 782.73 187.17 782.2 192 C781.67 196.83 779.75 203.17 778.6 208 C777.45 212.83 776.27 217.33 775.3 221 C774.33 224.67 773.58 226.67 772.8 230 C772.02 233.33 771.62 237.72 770.6 241 C769.58 244.28 768.35 247.32 766.7 249.7 C765.05 252.08 762.42 253.48 760.7 255.3 C758.98 257.12 757.68 258.48 756.4 260.6 C755.12 262.72 754 265.27 753 268 C752 270.73 751.32 274.42 750.4 277 C749.48 279.58 749.2 282.42 747.5 283.5 C745.8 284.58 741.72 284.58 740.2 283.5 C738.68 282.42 739.3 279.08 738.4 277 C737.5 274.92 736.2 272.8 734.8 271 C733.4 269.2 731.8 267.5 730 266.2 C728.2 264.9 726.2 264 724 263.2 C721.8 262.4 719.22 262.35 716.8 261.4 C714.38 260.45 711.63 259.23 709.5 257.5 C707.37 255.77 705.08 254.08 704 251 C702.92 247.92 702.83 243.17 703 239 C703.17 234.83 704.33 230.33 705 226 C705.67 221.67 706.4 217.33 707 213 C707.6 208.67 708.22 204.5 708.6 200 C708.98 195.5 709.3 189.83 709.3 186 C709.3 182.17 709.25 180.33 708.6 177 C707.95 173.67 706.5 168.88 705.4 166 C704.3 163.12 703.03 162.37 702 159.7 C700.97 157.03 700.12 152.53 699.2 150 C698.28 147.47 697.87 145.92 696.5 144.5 C695.13 143.08 692 142.92 691 141.5 C690 140.08 689.67 137.37 690.5 136 C691.33 134.63 693.83 133.88 696 133.3 C698.17 132.72 701.17 133.83 703.5 132.5 C705.83 131.17 708.2 128.72 710 125.3 C711.8 121.88 713.38 115.55 714.3 112 C715.22 108.45 715.17 107.2 715.5 104 C715.83 100.8 716.05 96.5 716.3 92.8 C716.55 89.1 716.7 85.45 717 81.8 C717.3 78.15 717.18 73.27 718.1 70.9Z" fill="url(#gc1)" filter="url(#er2)"/>
<path d="M808.1 65.9 C809.2 63.68 811.95 63.87 813.6 63.5 C815.25 63.13 816.55 63.12 818 63.7 C819.45 64.28 820.67 65 822.3 67 C823.93 69 826.52 73.7 827.8 75.7 C829.08 77.7 829.28 77.35 830 79 C830.72 80.65 831.2 82.87 832.1 85.6 C833 88.33 833.93 93.05 835.4 95.4 C836.87 97.75 838.7 98.05 840.9 99.7 C843.1 101.35 846.23 103.63 848.6 105.3 C850.97 106.97 853.1 108.25 855.1 109.7 C857.1 111.15 859.23 112.18 860.6 114 C861.97 115.82 862.93 118.42 863.3 120.6 C863.67 122.78 863.43 125.1 862.8 127.1 C862.17 129.1 860.97 131.32 859.5 132.6 C858.03 133.88 855.53 134.48 854 134.8 C852.47 135.12 851.18 133.48 850.3 134.5 C849.42 135.52 847.68 138.55 848.7 140.9 C849.72 143.25 854.03 146.23 856.4 148.6 C858.77 150.97 861.08 152.73 862.9 155.1 C864.72 157.47 866.02 160.07 867.3 162.8 C868.58 165.53 869.68 168.63 870.6 171.5 C871.52 174.37 872.35 176.92 872.8 180 C873.25 183.08 873.13 186.67 873.3 190 C873.47 193.33 874.03 196.17 873.8 200 C873.57 203.83 872.55 208.67 871.9 213 C871.25 217.33 870.5 222.33 869.9 226 C869.3 229.67 869.37 232.67 868.3 235 C867.23 237.33 864.88 238.5 863.5 240 C862.12 241.5 860.83 242.33 860 244 C859.17 245.67 859.25 247.83 858.5 250 C857.75 252.17 856.85 254.73 855.5 257 C854.15 259.27 852.05 261.3 850.4 263.6 C848.75 265.9 846.9 268.4 845.6 270.8 C844.3 273.2 843.4 275.72 842.6 278 C841.8 280.28 842.1 283.42 840.8 284.5 C839.5 285.58 835.9 285.58 834.8 284.5 C833.7 283.42 834.6 280.28 834.2 278 C833.8 275.72 833.3 273 832.4 270.8 C831.5 268.6 830.2 266.4 828.8 264.8 C827.4 263.2 826 262 824 261.2 C822 260.4 819.13 260.78 816.8 260 C814.47 259.22 811.9 258.17 810 256.5 C808.1 254.83 806.23 253.08 805.4 250 C804.57 246.92 805.15 241.33 805 238 C804.85 234.67 804.75 232.8 804.5 230 C804.25 227.2 804 224.87 803.5 221.2 C803 217.53 802.05 212.37 801.5 208 C800.95 203.63 800.75 199.78 800.2 195 C799.65 190.22 799.08 184.1 798.2 179.3 C797.32 174.5 796.32 170.58 794.9 166.2 C793.48 161.82 790.9 156.67 789.7 153 C788.5 149.33 788.32 146.78 787.7 144.2 C787.08 141.62 786.95 139.15 786 137.5 C785.05 135.85 783.33 135.38 782 134.3 C780.67 133.22 778.63 132.38 778 131 C777.37 129.62 777.37 127.33 778.2 126 C779.03 124.67 781.2 123.7 783 123 C784.8 122.3 787.5 122.55 789 121.8 C790.5 121.05 790.92 120.63 792 118.5 C793.08 116.37 794.25 112.03 795.5 109 C796.75 105.97 797.85 102.38 799.5 100.3 C801.15 98.22 804.23 98.58 805.4 96.5 C806.57 94.42 806.23 91.08 806.5 87.8 C806.77 84.52 806.73 80.45 807 76.8 C807.27 73.15 807 68.12 808.1 65.9Z" fill="url(#ge2)" filter="url(#b1)"/>
<path d="M808.1 65.9 C809.2 63.68 811.95 63.87 813.6 63.5 C815.25 63.13 816.55 63.12 818 63.7 C819.45 64.28 820.67 65 822.3 67 C823.93 69 826.52 73.7 827.8 75.7 C829.08 77.7 829.28 77.35 830 79 C830.72 80.65 831.2 82.87 832.1 85.6 C833 88.33 833.93 93.05 835.4 95.4 C836.87 97.75 838.7 98.05 840.9 99.7 C843.1 101.35 846.23 103.63 848.6 105.3 C850.97 106.97 853.1 108.25 855.1 109.7 C857.1 111.15 859.23 112.18 860.6 114 C861.97 115.82 862.93 118.42 863.3 120.6 C863.67 122.78 863.43 125.1 862.8 127.1 C862.17 129.1 860.97 131.32 859.5 132.6 C858.03 133.88 855.53 134.48 854 134.8 C852.47 135.12 851.18 133.48 850.3 134.5 C849.42 135.52 847.68 138.55 848.7 140.9 C849.72 143.25 854.03 146.23 856.4 148.6 C858.77 150.97 861.08 152.73 862.9 155.1 C864.72 157.47 866.02 160.07 867.3 162.8 C868.58 165.53 869.68 168.63 870.6 171.5 C871.52 174.37 872.35 176.92 872.8 180 C873.25 183.08 873.13 186.67 873.3 190 C873.47 193.33 874.03 196.17 873.8 200 C873.57 203.83 872.55 208.67 871.9 213 C871.25 217.33 870.5 222.33 869.9 226 C869.3 229.67 869.37 232.67 868.3 235 C867.23 237.33 864.88 238.5 863.5 240 C862.12 241.5 860.83 242.33 860 244 C859.17 245.67 859.25 247.83 858.5 250 C857.75 252.17 856.85 254.73 855.5 257 C854.15 259.27 852.05 261.3 850.4 263.6 C848.75 265.9 846.9 268.4 845.6 270.8 C844.3 273.2 843.4 275.72 842.6 278 C841.8 280.28 842.1 283.42 840.8 284.5 C839.5 285.58 835.9 285.58 834.8 284.5 C833.7 283.42 834.6 280.28 834.2 278 C833.8 275.72 833.3 273 832.4 270.8 C831.5 268.6 830.2 266.4 828.8 264.8 C827.4 263.2 826 262 824 261.2 C822 260.4 819.13 260.78 816.8 260 C814.47 259.22 811.9 258.17 810 256.5 C808.1 254.83 806.23 253.08 805.4 250 C804.57 246.92 805.15 241.33 805 238 C804.85 234.67 804.75 232.8 804.5 230 C804.25 227.2 804 224.87 803.5 221.2 C803 217.53 802.05 212.37 801.5 208 C800.95 203.63 800.75 199.78 800.2 195 C799.65 190.22 799.08 184.1 798.2 179.3 C797.32 174.5 796.32 170.58 794.9 166.2 C793.48 161.82 790.9 156.67 789.7 153 C788.5 149.33 788.32 146.78 787.7 144.2 C787.08 141.62 786.95 139.15 786 137.5 C785.05 135.85 783.33 135.38 782 134.3 C780.67 133.22 778.63 132.38 778 131 C777.37 129.62 777.37 127.33 778.2 126 C779.03 124.67 781.2 123.7 783 123 C784.8 122.3 787.5 122.55 789 121.8 C790.5 121.05 790.92 120.63 792 118.5 C793.08 116.37 794.25 112.03 795.5 109 C796.75 105.97 797.85 102.38 799.5 100.3 C801.15 98.22 804.23 98.58 805.4 96.5 C806.57 94.42 806.23 91.08 806.5 87.8 C806.77 84.52 806.73 80.45 807 76.8 C807.27 73.15 807 68.12 808.1 65.9Z" fill="url(#gm2)" filter="url(#er1)"/>
<path d="M808.1 65.9 C809.2 63.68 811.95 63.87 813.6 63.5 C815.25 63.13 816.55 63.12 818 63.7 C819.45 64.28 820.67 65 822.3 67 C823.93 69 826.52 73.7 827.8 75.7 C829.08 77.7 829.28 77.35 830 79 C830.72 80.65 831.2 82.87 832.1 85.6 C833 88.33 833.93 93.05 835.4 95.4 C836.87 97.75 838.7 98.05 840.9 99.7 C843.1 101.35 846.23 103.63 848.6 105.3 C850.97 106.97 853.1 108.25 855.1 109.7 C857.1 111.15 859.23 112.18 860.6 114 C861.97 115.82 862.93 118.42 863.3 120.6 C863.67 122.78 863.43 125.1 862.8 127.1 C862.17 129.1 860.97 131.32 859.5 132.6 C858.03 133.88 855.53 134.48 854 134.8 C852.47 135.12 851.18 133.48 850.3 134.5 C849.42 135.52 847.68 138.55 848.7 140.9 C849.72 143.25 854.03 146.23 856.4 148.6 C858.77 150.97 861.08 152.73 862.9 155.1 C864.72 157.47 866.02 160.07 867.3 162.8 C868.58 165.53 869.68 168.63 870.6 171.5 C871.52 174.37 872.35 176.92 872.8 180 C873.25 183.08 873.13 186.67 873.3 190 C873.47 193.33 874.03 196.17 873.8 200 C873.57 203.83 872.55 208.67 871.9 213 C871.25 217.33 870.5 222.33 869.9 226 C869.3 229.67 869.37 232.67 868.3 235 C867.23 237.33 864.88 238.5 863.5 240 C862.12 241.5 860.83 242.33 860 244 C859.17 245.67 859.25 247.83 858.5 250 C857.75 252.17 856.85 254.73 855.5 257 C854.15 259.27 852.05 261.3 850.4 263.6 C848.75 265.9 846.9 268.4 845.6 270.8 C844.3 273.2 843.4 275.72 842.6 278 C841.8 280.28 842.1 283.42 840.8 284.5 C839.5 285.58 835.9 285.58 834.8 284.5 C833.7 283.42 834.6 280.28 834.2 278 C833.8 275.72 833.3 273 832.4 270.8 C831.5 268.6 830.2 266.4 828.8 264.8 C827.4 263.2 826 262 824 261.2 C822 260.4 819.13 260.78 816.8 260 C814.47 259.22 811.9 258.17 810 256.5 C808.1 254.83 806.23 253.08 805.4 250 C804.57 246.92 805.15 241.33 805 238 C804.85 234.67 804.75 232.8 804.5 230 C804.25 227.2 804 224.87 803.5 221.2 C803 217.53 802.05 212.37 801.5 208 C800.95 203.63 800.75 199.78 800.2 195 C799.65 190.22 799.08 184.1 798.2 179.3 C797.32 174.5 796.32 170.58 794.9 166.2 C793.48 161.82 790.9 156.67 789.7 153 C788.5 149.33 788.32 146.78 787.7 144.2 C787.08 141.62 786.95 139.15 786 137.5 C785.05 135.85 783.33 135.38 782 134.3 C780.67 133.22 778.63 132.38 778 131 C777.37 129.62 777.37 127.33 778.2 126 C779.03 124.67 781.2 123.7 783 123 C784.8 122.3 787.5 122.55 789 121.8 C790.5 121.05 790.92 120.63 792 118.5 C793.08 116.37 794.25 112.03 795.5 109 C796.75 105.97 797.85 102.38 799.5 100.3 C801.15 98.22 804.23 98.58 805.4 96.5 C806.57 94.42 806.23 91.08 806.5 87.8 C806.77 84.52 806.73 80.45 807 76.8 C807.27 73.15 807 68.12 808.1 65.9Z" fill="url(#gc2)" filter="url(#er2)"/>
<path d="M898.1 68.1 C899.02 65.92 901.02 64.5 902.5 63.7 C903.98 62.9 905.37 62.57 907 63.3 C908.63 64.03 910.68 66.03 912.3 68.1 C913.92 70.17 915.43 73.33 916.7 75.7 C917.97 78.07 918.82 79.92 919.9 82.3 C920.98 84.68 922.1 87.78 923.2 90 C924.3 92.22 924.67 94.3 926.5 95.6 C928.33 96.9 931.65 97.25 934.2 97.8 C936.75 98.35 939.43 98.72 941.8 98.9 C944.17 99.08 946.4 98.35 948.4 98.9 C950.4 99.45 952.25 100.92 953.8 102.2 C955.35 103.48 956.78 104.97 957.7 106.6 C958.62 108.23 959.3 110.37 959.3 112 C959.3 113.63 958.78 115.63 957.7 116.4 C956.62 117.17 954.5 116.87 952.8 116.6 C951.1 116.33 948.57 114.57 947.5 114.8 C946.43 115.03 946.43 116.63 946.4 118 C946.37 119.37 947.07 120.72 947.3 123 C947.53 125.28 947.92 128.87 947.8 131.7 C947.68 134.53 946.65 136.45 946.6 140 C946.55 143.55 946.92 149.07 947.5 153 C948.08 156.93 949.23 160.32 950.1 163.6 C950.97 166.88 952.05 169.65 952.7 172.7 C953.35 175.75 953.73 178.62 954 181.9 C954.27 185.18 954.55 189.05 954.3 192.4 C954.05 195.75 953.73 198.57 952.5 202 C951.27 205.43 948.7 208.97 946.9 213 C945.1 217.03 943.33 221.82 941.7 226.2 C940.07 230.58 938.3 235.33 937.1 239.3 C935.9 243.27 935.65 246.88 934.5 250 C933.35 253.12 932.02 255.57 930.2 258 C928.38 260.43 925.78 262.4 923.6 264.6 C921.42 266.8 918.92 269.02 917.1 271.2 C915.28 273.38 914.07 275.7 912.7 277.7 C911.33 279.7 909.88 281.23 908.9 283.2 C907.92 285.17 908.35 288.45 906.8 289.5 C905.25 290.55 901.15 290.92 899.6 289.5 C898.05 288.08 898.4 283.52 897.5 281 C896.6 278.48 895.48 276.57 894.2 274.4 C892.92 272.23 891.43 269.82 889.8 268 C888.17 266.18 886.03 264.78 884.4 263.5 C882.77 262.22 881.4 261.38 880 260.3 C878.6 259.22 877.1 258.55 876 257 C874.9 255.45 873.97 253.33 873.4 251 C872.83 248.67 872.97 245.75 872.6 243 C872.23 240.25 871.22 237.33 871.2 234.5 C871.18 231.67 871.73 229.58 872.5 226 C873.27 222.42 874.92 217.33 875.8 213 C876.68 208.67 877.3 203 877.8 200 C878.3 197 878.35 197.3 878.8 195 C879.25 192.7 879.92 189.12 880.5 186.2 C881.08 183.28 881.95 179.95 882.3 177.5 C882.65 175.05 882.55 173.95 882.6 171.5 C882.65 169.05 882.78 165.53 882.6 162.8 C882.42 160.07 882.05 157.83 881.5 155.1 C880.95 152.37 880.13 149.13 879.3 146.4 C878.47 143.67 877.38 141.18 876.5 138.7 C875.62 136.22 874.87 133.53 874 131.5 C873.13 129.47 871.73 128.17 871.3 126.5 C870.87 124.83 870.78 122.7 871.4 121.5 C872.02 120.3 873.57 119.47 875 119.3 C876.43 119.13 878.5 119.63 880 120.5 C881.5 121.37 882.78 124.17 884 124.5 C885.22 124.83 886.42 123.75 887.3 122.5 C888.18 121.25 888.58 119 889.3 117 C890.02 115 891.05 113.33 891.6 110.5 C892.15 107.67 891.97 102.52 892.6 100 C893.23 97.48 894.85 97.43 895.4 95.4 C895.95 93.37 895.63 90.9 895.9 87.8 C896.17 84.7 896.63 80.08 897 76.8 C897.37 73.52 897.18 70.28 898.1 68.1Z" fill="url(#ge3)" filter="url(#b1)"/>
<path d="M898.1 68.1 C899.02 65.92 901.02 64.5 902.5 63.7 C903.98 62.9 905.37 62.57 907 63.3 C908.63 64.03 910.68 66.03 912.3 68.1 C913.92 70.17 915.43 73.33 916.7 75.7 C917.97 78.07 918.82 79.92 919.9 82.3 C920.98 84.68 922.1 87.78 923.2 90 C924.3 92.22 924.67 94.3 926.5 95.6 C928.33 96.9 931.65 97.25 934.2 97.8 C936.75 98.35 939.43 98.72 941.8 98.9 C944.17 99.08 946.4 98.35 948.4 98.9 C950.4 99.45 952.25 100.92 953.8 102.2 C955.35 103.48 956.78 104.97 957.7 106.6 C958.62 108.23 959.3 110.37 959.3 112 C959.3 113.63 958.78 115.63 957.7 116.4 C956.62 117.17 954.5 116.87 952.8 116.6 C951.1 116.33 948.57 114.57 947.5 114.8 C946.43 115.03 946.43 116.63 946.4 118 C946.37 119.37 947.07 120.72 947.3 123 C947.53 125.28 947.92 128.87 947.8 131.7 C947.68 134.53 946.65 136.45 946.6 140 C946.55 143.55 946.92 149.07 947.5 153 C948.08 156.93 949.23 160.32 950.1 163.6 C950.97 166.88 952.05 169.65 952.7 172.7 C953.35 175.75 953.73 178.62 954 181.9 C954.27 185.18 954.55 189.05 954.3 192.4 C954.05 195.75 953.73 198.57 952.5 202 C951.27 205.43 948.7 208.97 946.9 213 C945.1 217.03 943.33 221.82 941.7 226.2 C940.07 230.58 938.3 235.33 937.1 239.3 C935.9 243.27 935.65 246.88 934.5 250 C933.35 253.12 932.02 255.57 930.2 258 C928.38 260.43 925.78 262.4 923.6 264.6 C921.42 266.8 918.92 269.02 917.1 271.2 C915.28 273.38 914.07 275.7 912.7 277.7 C911.33 279.7 909.88 281.23 908.9 283.2 C907.92 285.17 908.35 288.45 906.8 289.5 C905.25 290.55 901.15 290.92 899.6 289.5 C898.05 288.08 898.4 283.52 897.5 281 C896.6 278.48 895.48 276.57 894.2 274.4 C892.92 272.23 891.43 269.82 889.8 268 C888.17 266.18 886.03 264.78 884.4 263.5 C882.77 262.22 881.4 261.38 880 260.3 C878.6 259.22 877.1 258.55 876 257 C874.9 255.45 873.97 253.33 873.4 251 C872.83 248.67 872.97 245.75 872.6 243 C872.23 240.25 871.22 237.33 871.2 234.5 C871.18 231.67 871.73 229.58 872.5 226 C873.27 222.42 874.92 217.33 875.8 213 C876.68 208.67 877.3 203 877.8 200 C878.3 197 878.35 197.3 878.8 195 C879.25 192.7 879.92 189.12 880.5 186.2 C881.08 183.28 881.95 179.95 882.3 177.5 C882.65 175.05 882.55 173.95 882.6 171.5 C882.65 169.05 882.78 165.53 882.6 162.8 C882.42 160.07 882.05 157.83 881.5 155.1 C880.95 152.37 880.13 149.13 879.3 146.4 C878.47 143.67 877.38 141.18 876.5 138.7 C875.62 136.22 874.87 133.53 874 131.5 C873.13 129.47 871.73 128.17 871.3 126.5 C870.87 124.83 870.78 122.7 871.4 121.5 C872.02 120.3 873.57 119.47 875 119.3 C876.43 119.13 878.5 119.63 880 120.5 C881.5 121.37 882.78 124.17 884 124.5 C885.22 124.83 886.42 123.75 887.3 122.5 C888.18 121.25 888.58 119 889.3 117 C890.02 115 891.05 113.33 891.6 110.5 C892.15 107.67 891.97 102.52 892.6 100 C893.23 97.48 894.85 97.43 895.4 95.4 C895.95 93.37 895.63 90.9 895.9 87.8 C896.17 84.7 896.63 80.08 897 76.8 C897.37 73.52 897.18 70.28 898.1 68.1Z" fill="url(#gm3)" filter="url(#er1)"/>
<path d="M898.1 68.1 C899.02 65.92 901.02 64.5 902.5 63.7 C903.98 62.9 905.37 62.57 907 63.3 C908.63 64.03 910.68 66.03 912.3 68.1 C913.92 70.17 915.43 73.33 916.7 75.7 C917.97 78.07 918.82 79.92 919.9 82.3 C920.98 84.68 922.1 87.78 923.2 90 C924.3 92.22 924.67 94.3 926.5 95.6 C928.33 96.9 931.65 97.25 934.2 97.8 C936.75 98.35 939.43 98.72 941.8 98.9 C944.17 99.08 946.4 98.35 948.4 98.9 C950.4 99.45 952.25 100.92 953.8 102.2 C955.35 103.48 956.78 104.97 957.7 106.6 C958.62 108.23 959.3 110.37 959.3 112 C959.3 113.63 958.78 115.63 957.7 116.4 C956.62 117.17 954.5 116.87 952.8 116.6 C951.1 116.33 948.57 114.57 947.5 114.8 C946.43 115.03 946.43 116.63 946.4 118 C946.37 119.37 947.07 120.72 947.3 123 C947.53 125.28 947.92 128.87 947.8 131.7 C947.68 134.53 946.65 136.45 946.6 140 C946.55 143.55 946.92 149.07 947.5 153 C948.08 156.93 949.23 160.32 950.1 163.6 C950.97 166.88 952.05 169.65 952.7 172.7 C953.35 175.75 953.73 178.62 954 181.9 C954.27 185.18 954.55 189.05 954.3 192.4 C954.05 195.75 953.73 198.57 952.5 202 C951.27 205.43 948.7 208.97 946.9 213 C945.1 217.03 943.33 221.82 941.7 226.2 C940.07 230.58 938.3 235.33 937.1 239.3 C935.9 243.27 935.65 246.88 934.5 250 C933.35 253.12 932.02 255.57 930.2 258 C928.38 260.43 925.78 262.4 923.6 264.6 C921.42 266.8 918.92 269.02 917.1 271.2 C915.28 273.38 914.07 275.7 912.7 277.7 C911.33 279.7 909.88 281.23 908.9 283.2 C907.92 285.17 908.35 288.45 906.8 289.5 C905.25 290.55 901.15 290.92 899.6 289.5 C898.05 288.08 898.4 283.52 897.5 281 C896.6 278.48 895.48 276.57 894.2 274.4 C892.92 272.23 891.43 269.82 889.8 268 C888.17 266.18 886.03 264.78 884.4 263.5 C882.77 262.22 881.4 261.38 880 260.3 C878.6 259.22 877.1 258.55 876 257 C874.9 255.45 873.97 253.33 873.4 251 C872.83 248.67 872.97 245.75 872.6 243 C872.23 240.25 871.22 237.33 871.2 234.5 C871.18 231.67 871.73 229.58 872.5 226 C873.27 222.42 874.92 217.33 875.8 213 C876.68 208.67 877.3 203 877.8 200 C878.3 197 878.35 197.3 878.8 195 C879.25 192.7 879.92 189.12 880.5 186.2 C881.08 183.28 881.95 179.95 882.3 177.5 C882.65 175.05 882.55 173.95 882.6 171.5 C882.65 169.05 882.78 165.53 882.6 162.8 C882.42 160.07 882.05 157.83 881.5 155.1 C880.95 152.37 880.13 149.13 879.3 146.4 C878.47 143.67 877.38 141.18 876.5 138.7 C875.62 136.22 874.87 133.53 874 131.5 C873.13 129.47 871.73 128.17 871.3 126.5 C870.87 124.83 870.78 122.7 871.4 121.5 C872.02 120.3 873.57 119.47 875 119.3 C876.43 119.13 878.5 119.63 880 120.5 C881.5 121.37 882.78 124.17 884 124.5 C885.22 124.83 886.42 123.75 887.3 122.5 C888.18 121.25 888.58 119 889.3 117 C890.02 115 891.05 113.33 891.6 110.5 C892.15 107.67 891.97 102.52 892.6 100 C893.23 97.48 894.85 97.43 895.4 95.4 C895.95 93.37 895.63 90.9 895.9 87.8 C896.17 84.7 896.63 80.08 897 76.8 C897.37 73.52 897.18 70.28 898.1 68.1Z" fill="url(#gc3)" filter="url(#er2)"/>
<g filter="url(#b15)">
<ellipse cx="688.5" cy="123" rx="6.5" ry="8.5" fill="#8e8e8e"/>
<ellipse cx="774.5" cy="116.5" rx="6.5" ry="7.5" fill="#909090"/>
<ellipse cx="856.5" cy="121" rx="5" ry="9" fill="#a2a2a2"/>
<ellipse cx="843" cy="118.5" rx="5" ry="4" fill="#7c7c7c"/>
<path d="M840 115 Q846.5 112 847.5 122 L847.5 135" stroke="#767676" stroke-width="2.6" fill="none"/>
</g>
<rect x="638.8" y="55" width="7" height="33.5" fill="#6a6a6a" opacity="0.5" filter="url(#b05)"/>
<rect x="639.2" y="55" width="2.4" height="33.5" fill="#b4b4b4" filter="url(#b08)"/>
<rect x="643.2" y="55" width="2.2" height="31.5" fill="#a2a2a2" filter="url(#b08)"/>
<rect x="727" y="55" width="7" height="41" fill="#6a6a6a" opacity="0.5" filter="url(#b05)"/>
<rect x="727.4" y="55" width="2.4" height="41" fill="#b4b4b4" filter="url(#b08)"/>
<rect x="731.4" y="55" width="2.2" height="39" fill="#a2a2a2" filter="url(#b08)"/>
<rect x="815.9" y="55" width="7" height="41" fill="#6a6a6a" opacity="0.5" filter="url(#b05)"/>
<rect x="816.3" y="55" width="2.4" height="41" fill="#b4b4b4" filter="url(#b08)"/>
<rect x="820.3" y="55" width="2.2" height="39" fill="#a2a2a2" filter="url(#b08)"/>
<rect x="905.3" y="55" width="7" height="38" fill="#6a6a6a" opacity="0.5" filter="url(#b05)"/>
<rect x="905.7" y="55" width="2.4" height="38" fill="#b4b4b4" filter="url(#b08)"/>
<rect x="909.7" y="55" width="2.2" height="36" fill="#a2a2a2" filter="url(#b08)"/>
<g filter="url(#b08)">
<ellipse cx="658" cy="124" rx="9" ry="15" fill="#8a8a8a" transform="rotate(33 658 124)" filter="url(#b2)"/>
<g transform="rotate(29 657.3 131.8)">
<rect x="653.5" y="114" width="7.6" height="20" rx="2.5" fill="#858585"/>
<rect x="654" y="117" width="6.6" height="1.6" fill="#606060"/><rect x="654" y="121" width="6.6" height="1.6" fill="#606060"/><rect x="654" y="125" width="6.6" height="1.6" fill="#606060"/>
<rect x="654.3" y="131" width="6" height="5" fill="#dedede"/>
<rect x="653.8" y="139.5" width="7" height="7.5" rx="3" fill="#505050"/><rect x="655.3" y="141.5" width="4" height="4" rx="2" fill="#b0b0b0"/>
</g>
<ellipse cx="750" cy="128" rx="9" ry="16" fill="#a4a4a4" opacity="0.8" filter="url(#b3)"/>
<g transform="rotate(8 749.5 131)">
<rect x="746.5" y="119.5" width="6.3" height="23" rx="2" fill="#7a7a7a"/>
<rect x="747" y="126.6" width="5.5" height="6.8" fill="#eeeeee"/>
<rect x="746.8" y="133.5" width="5.8" height="5" fill="#404040"/>
<rect x="746.8" y="138.4" width="5" height="2.8" fill="#e0e0e0"/>
</g>
<path d="M904.5 124 Q904 107 911.5 104.5 Q919 103.5 921.5 117" stroke="#8c8c8c" stroke-width="5.5" fill="none" filter="url(#b15)"/>
<ellipse cx="785" cy="117" rx="4" ry="6" fill="#7a7a7a" filter="url(#b15)"/>
<path d="M911.4 113.5 Q915.5 119 913 126 Q911 132 908.8 136.5" stroke="#454545" stroke-width="4.2" fill="none" stroke-linecap="round"/>
<circle cx="909.3" cy="136.3" r="3.3" fill="#2e2e2e"/>
<circle cx="647.8" cy="99.3" r="2.2" fill="#2a2a2a"/>
<circle cx="733.4" cy="90.6" r="2" fill="#505050"/>
</g>
<g filter="url(#b05)">
<rect x="650.6" y="190.5" width="5.5" height="5.5" fill="#3300ff"/>
<rect x="653.2" y="185.2" width="11.4" height="6" fill="#1a10ff"/>
<rect x="655" y="197" width="9.6" height="3.4" fill="#1010f0"/>
<rect x="657.8" y="200" width="2.8" height="3.2" fill="#3000e0"/>
<rect x="655.5" y="190.8" width="5.5" height="8.2" fill="#00d8f0"/>
<rect x="660" y="190.8" width="4.6" height="5.5" fill="#20e020"/>
<rect x="664.6" y="190.5" width="3" height="2.4" fill="#4a10e0"/>
<rect x="657.5" y="184.3" width="2" height="1.5" fill="#1a10ff"/>
<rect x="662" y="184.3" width="2" height="1.5" fill="#1a10ff"/>
</g>
<g filter="url(#b05)">
<path d="M735 165 C736.23 163.77 739 162.83 741 162.6 C743 162.37 745 163.6 747 163.6 C749 163.6 751 162.37 753 162.6 C755 162.83 757.67 163.43 759 165 C760.33 166.57 760.62 169.17 761 172 C761.38 174.83 761.47 178.83 761.3 182 C761.13 185.17 760.63 188.5 760 191 C759.37 193.5 758.83 195.33 757.5 197 C756.17 198.67 753.92 200.08 752 201 C750.08 201.92 748 202.5 746 202.5 C744 202.5 741.67 202 740 201 C738.33 200 737.08 198.5 736 196.5 C734.92 194.5 733.95 192.08 733.5 189 C733.05 185.92 733.28 181.17 733.3 178 C733.32 174.83 733.32 172.17 733.6 170 C733.88 167.83 733.77 166.23 735 165Z" fill="#3000e8"/>
<path d="M736.71 167.55 C737.77 166.49 740.15 165.68 741.87 165.48 C743.59 165.28 745.31 166.34 747.03 166.34 C748.75 166.34 750.47 165.28 752.19 165.48 C753.91 165.68 756.2 166.2 757.35 167.55 C758.49 168.9 758.74 171.13 759.07 173.57 C759.4 176 759.47 179.44 759.33 182.17 C759.18 184.89 758.75 187.76 758.21 189.91 C757.66 192.06 757.2 193.63 756.06 195.07 C754.91 196.5 752.98 197.72 751.33 198.51 C749.68 199.3 747.89 199.8 746.17 199.8 C744.45 199.8 742.44 199.37 741.01 198.51 C739.57 197.65 738.5 196.36 737.57 194.64 C736.64 192.92 735.81 190.84 735.42 188.19 C735.03 185.54 735.23 181.45 735.25 178.73 C735.26 176 735.26 173.71 735.5 171.85 C735.75 169.98 735.65 168.61 736.71 167.55Z" fill="#0010ff"/>
<path d="M738.66 170.46 C739.52 169.6 741.46 168.94 742.86 168.78 C744.26 168.62 745.66 169.48 747.06 169.48 C748.46 169.48 749.86 168.62 751.26 168.78 C752.66 168.94 754.53 169.36 755.46 170.46 C756.39 171.56 756.59 173.38 756.86 175.36 C757.13 177.34 757.19 180.14 757.07 182.36 C756.95 184.58 756.6 186.91 756.16 188.66 C755.72 190.41 755.34 191.69 754.41 192.86 C753.48 194.03 751.9 195.02 750.56 195.66 C749.22 196.3 747.76 196.71 746.36 196.71 C744.96 196.71 743.33 196.36 742.16 195.66 C740.99 194.96 740.12 193.91 739.36 192.51 C738.6 191.11 737.92 189.42 737.61 187.26 C737.3 185.1 737.46 181.78 737.47 179.56 C737.48 177.34 737.48 175.48 737.68 173.96 C737.88 172.44 737.8 171.32 738.66 170.46Z" fill="#00d8f0"/>
<ellipse cx="747.2" cy="183.3" rx="7.8" ry="9.2" fill="#30e040"/>
<ellipse cx="746.5" cy="184.3" rx="5.9" ry="6.9" fill="#f0e000"/>
<ellipse cx="746.3" cy="184.4" rx="4.5" ry="5.4" fill="#ee0000"/>
<rect x="834.9" y="178.8" width="13.4" height="21.4" rx="5" fill="#3000e8"/>
<rect x="836.3" y="180.2" width="10.6" height="18.6" rx="4" fill="#0010ff"/>
<ellipse cx="842.3" cy="189" rx="3.8" ry="4.8" fill="#10e0f0"/>
<ellipse cx="917" cy="186.3" rx="14.6" ry="21.3" fill="#3000e8"/>
<ellipse cx="917.2" cy="186" rx="12.4" ry="18.4" fill="#0010ff"/>
<ellipse cx="917.3" cy="185.6" rx="10.5" ry="15.2" fill="#00d8f0"/>
<ellipse cx="916.7" cy="184.5" rx="7.5" ry="12" fill="#30e040"/>
<ellipse cx="916.4" cy="184.5" rx="4.6" ry="9.6" fill="#e0e000"/>
<ellipse cx="915.9" cy="188" rx="2.6" ry="4.8" fill="#ff9000"/>
<path d="M917.3 174.6 Q920 178 921 181.4 Q919 186 915.7 188.2 Q913 185 912 182 Q914 177 917.3 174.6Z" fill="#ee0000"/>
</g>
</g>
<rect x="972.6" y="71.6" width="14.8" height="258.6" fill="url(#gcb)" stroke="#262626" stroke-width="1"/>
<path d="M987.9 71.6 H992.2 M987.9 79.05 H992.2 M987.9 86.51 H992.2 M987.9 93.96 H996.2 M987.9 101.41 H992.2 M987.9 108.86 H992.2 M987.9 116.32 H992.2 M987.9 123.77 H992.2 M987.9 131.22 H996.2 M987.9 138.68 H992.2 M987.9 146.13 H992.2 M987.9 153.58 H992.2 M987.9 161.04 H992.2 M987.9 168.49 H996.2 M987.9 175.94 H992.2 M987.9 183.39 H992.2 M987.9 190.85 H992.2 M987.9 198.3 H992.2 M987.9 205.75 H996.2 M987.9 213.21 H992.2 M987.9 220.66 H992.2 M987.9 228.11 H992.2 M987.9 235.57 H992.2 M987.9 243.02 H996.2 M987.9 250.47 H992.2 M987.9 257.93 H992.2 M987.9 265.38 H992.2 M987.9 272.83 H992.2 M987.9 280.28 H996.2 M987.9 287.74 H992.2 M987.9 295.19 H992.2 M987.9 302.64 H992.2 M987.9 310.1 H992.2 M987.9 317.55 H996.2 M987.9 325 H992.2" stroke="#111" stroke-width="1.2" fill="none"/>
<text class="serif" x="1001.2" y="95.3" font-size="12.5" fill="#222">1.4</text>
<text class="serif" x="1001.2" y="132.57" font-size="12.5" fill="#222">1.2</text>
<text class="serif" x="1001.2" y="169.83" font-size="12.5" fill="#222">1.0</text>
<text class="serif" x="1001.2" y="207.09" font-size="12.5" fill="#222">0.8</text>
<text class="serif" x="1001.2" y="244.36" font-size="12.5" fill="#222">0.6</text>
<text class="serif" x="1001.2" y="281.62" font-size="12.5" fill="#222">0.4</text>
<text class="serif" x="1001.2" y="318.89" font-size="12.5" fill="#222">0.2</text>
<text class="serif" x="1024.5" y="201" font-size="12.5" fill="#222">x10<tspan font-size="10" dy="-6.5">6</tspan></text>
<text x="972" y="340.5" font-size="11" fill="#222" textLength="67" lengthAdjust="spacingAndGlyphs">p/sec/cm^2/sr</text>
<rect x="973" y="350.4" width="70.6" height="44.4" fill="none" stroke="#333" stroke-width="1"/>
<text x="975" y="364.3" font-size="10.6" fill="#222" textLength="41.8" lengthAdjust="spacingAndGlyphs">Color Bar</text>
<text x="975" y="377.4" font-size="10.6" fill="#222" textLength="61" lengthAdjust="spacingAndGlyphs">Min = 1.27e5</text>
<text x="975" y="390.5" font-size="10.6" fill="#222" textLength="65" lengthAdjust="spacingAndGlyphs">Max = 1.52e6</text>
<text x="584.9" y="42.4" font-size="30.5">Day 35</text>
<path d="M649.9 424.6 H653.1 V401.2 H650.6 Q649.6 405 644.5 406 V408.2 Q648 407.8 649.9 406.6 Z" fill="#000"/>
<text x="744" y="424.6" font-size="34" text-anchor="middle">2</text>
<text x="837.3" y="424.6" font-size="34" text-anchor="middle">3</text>
<text x="921.6" y="424.6" font-size="34" text-anchor="middle">4</text>
</svg>
</body></html>
